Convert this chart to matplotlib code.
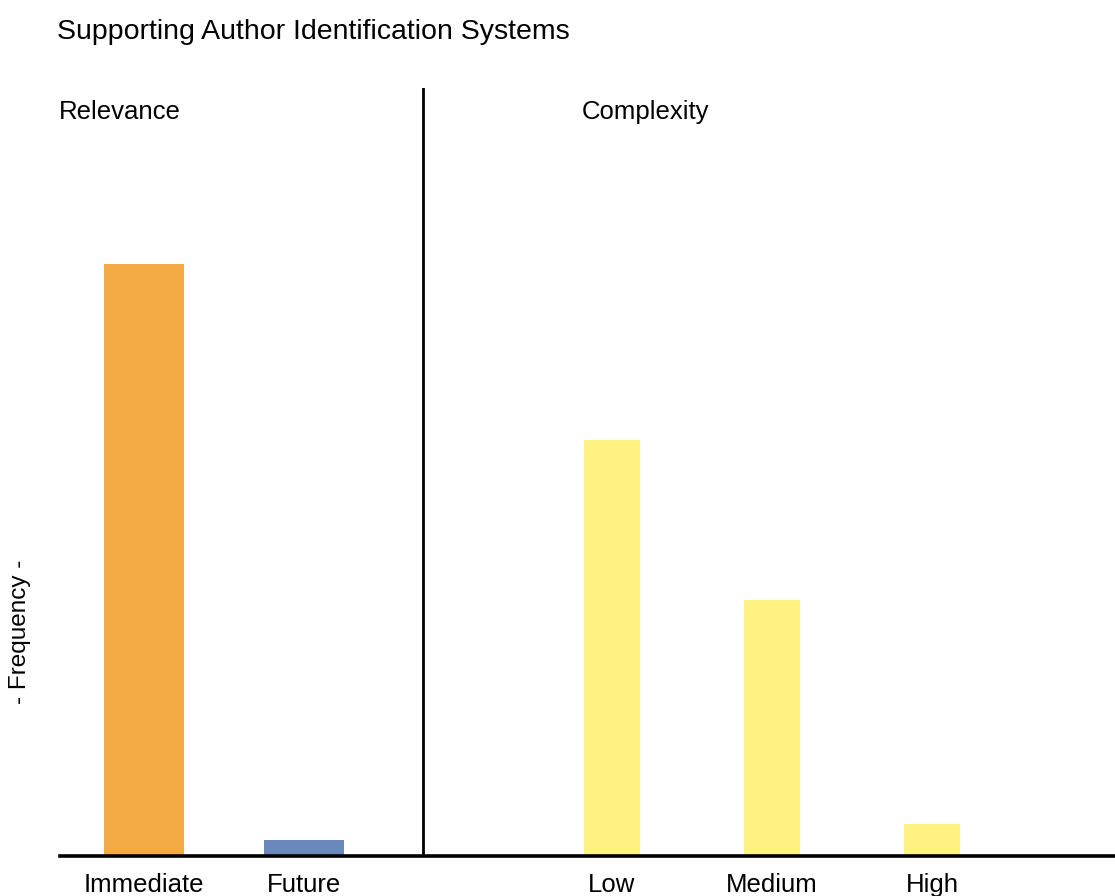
import matplotlib.pyplot as plt

plt.rcParams["font.family"] = ["Liberation Sans", "DejaVu Sans"]

# data
relevance_labels = ["Immediate", "Future"]
relevance_values = [37, 1]
relevance_colors = ["#F4AA44", "#6A88BA"]

complexity_labels = ["Low", "Medium", "High"]
complexity_values = [26, 16, 2]
complexity_color = "#FFF283"

title = "Supporting Author Identification Systems"
y_label = "- Frequency -"

# layout (x in slots of 160 px, starting at the axes left edge)
rel_x = [0.525, 1.525]
cpx_x = [3.45, 4.45, 5.45]
divider_x = 2.27

W, H = 1115, 896
fig = plt.figure(figsize=(W / 100, H / 100), dpi=100)
ax = fig.add_axes([60 / W, (H - 856) / H, (W - 60) / W, 768 / H])

ax.bar(rel_x, relevance_values, width=0.5, color=relevance_colors)
ax.bar(cpx_x, complexity_values, width=0.35, color=complexity_color)

ax.set_xlim(0, (W - 60) / 160)
ax.set_ylim(0, 48)
ax.axvline(divider_x, color="black", lw=2)

for s in ["top", "right", "left"]:
    ax.spines[s].set_visible(False)
ax.spines["bottom"].set_linewidth(2.6)
ax.set_yticks([])
ax.set_xticks(rel_x + cpx_x)
ax.set_xticklabels(relevance_labels + complexity_labels, fontsize=18.5)
ax.tick_params(axis="x", length=0, pad=12)

ax.text(-0.01, 46.5, "Relevance", fontsize=18.5, va="center", ha="left")
ax.text(3.26, 46.5, "Complexity", fontsize=18.5, va="center", ha="left")

fig.text(57 / W, 1 - 32 / H, title, fontsize=20.5, va="center", ha="left")
fig.text(20 / W, 1 - 632 / H, y_label, fontsize=17.5, rotation=90, va="center", ha="center")

fig.savefig("out.png", dpi=100)
